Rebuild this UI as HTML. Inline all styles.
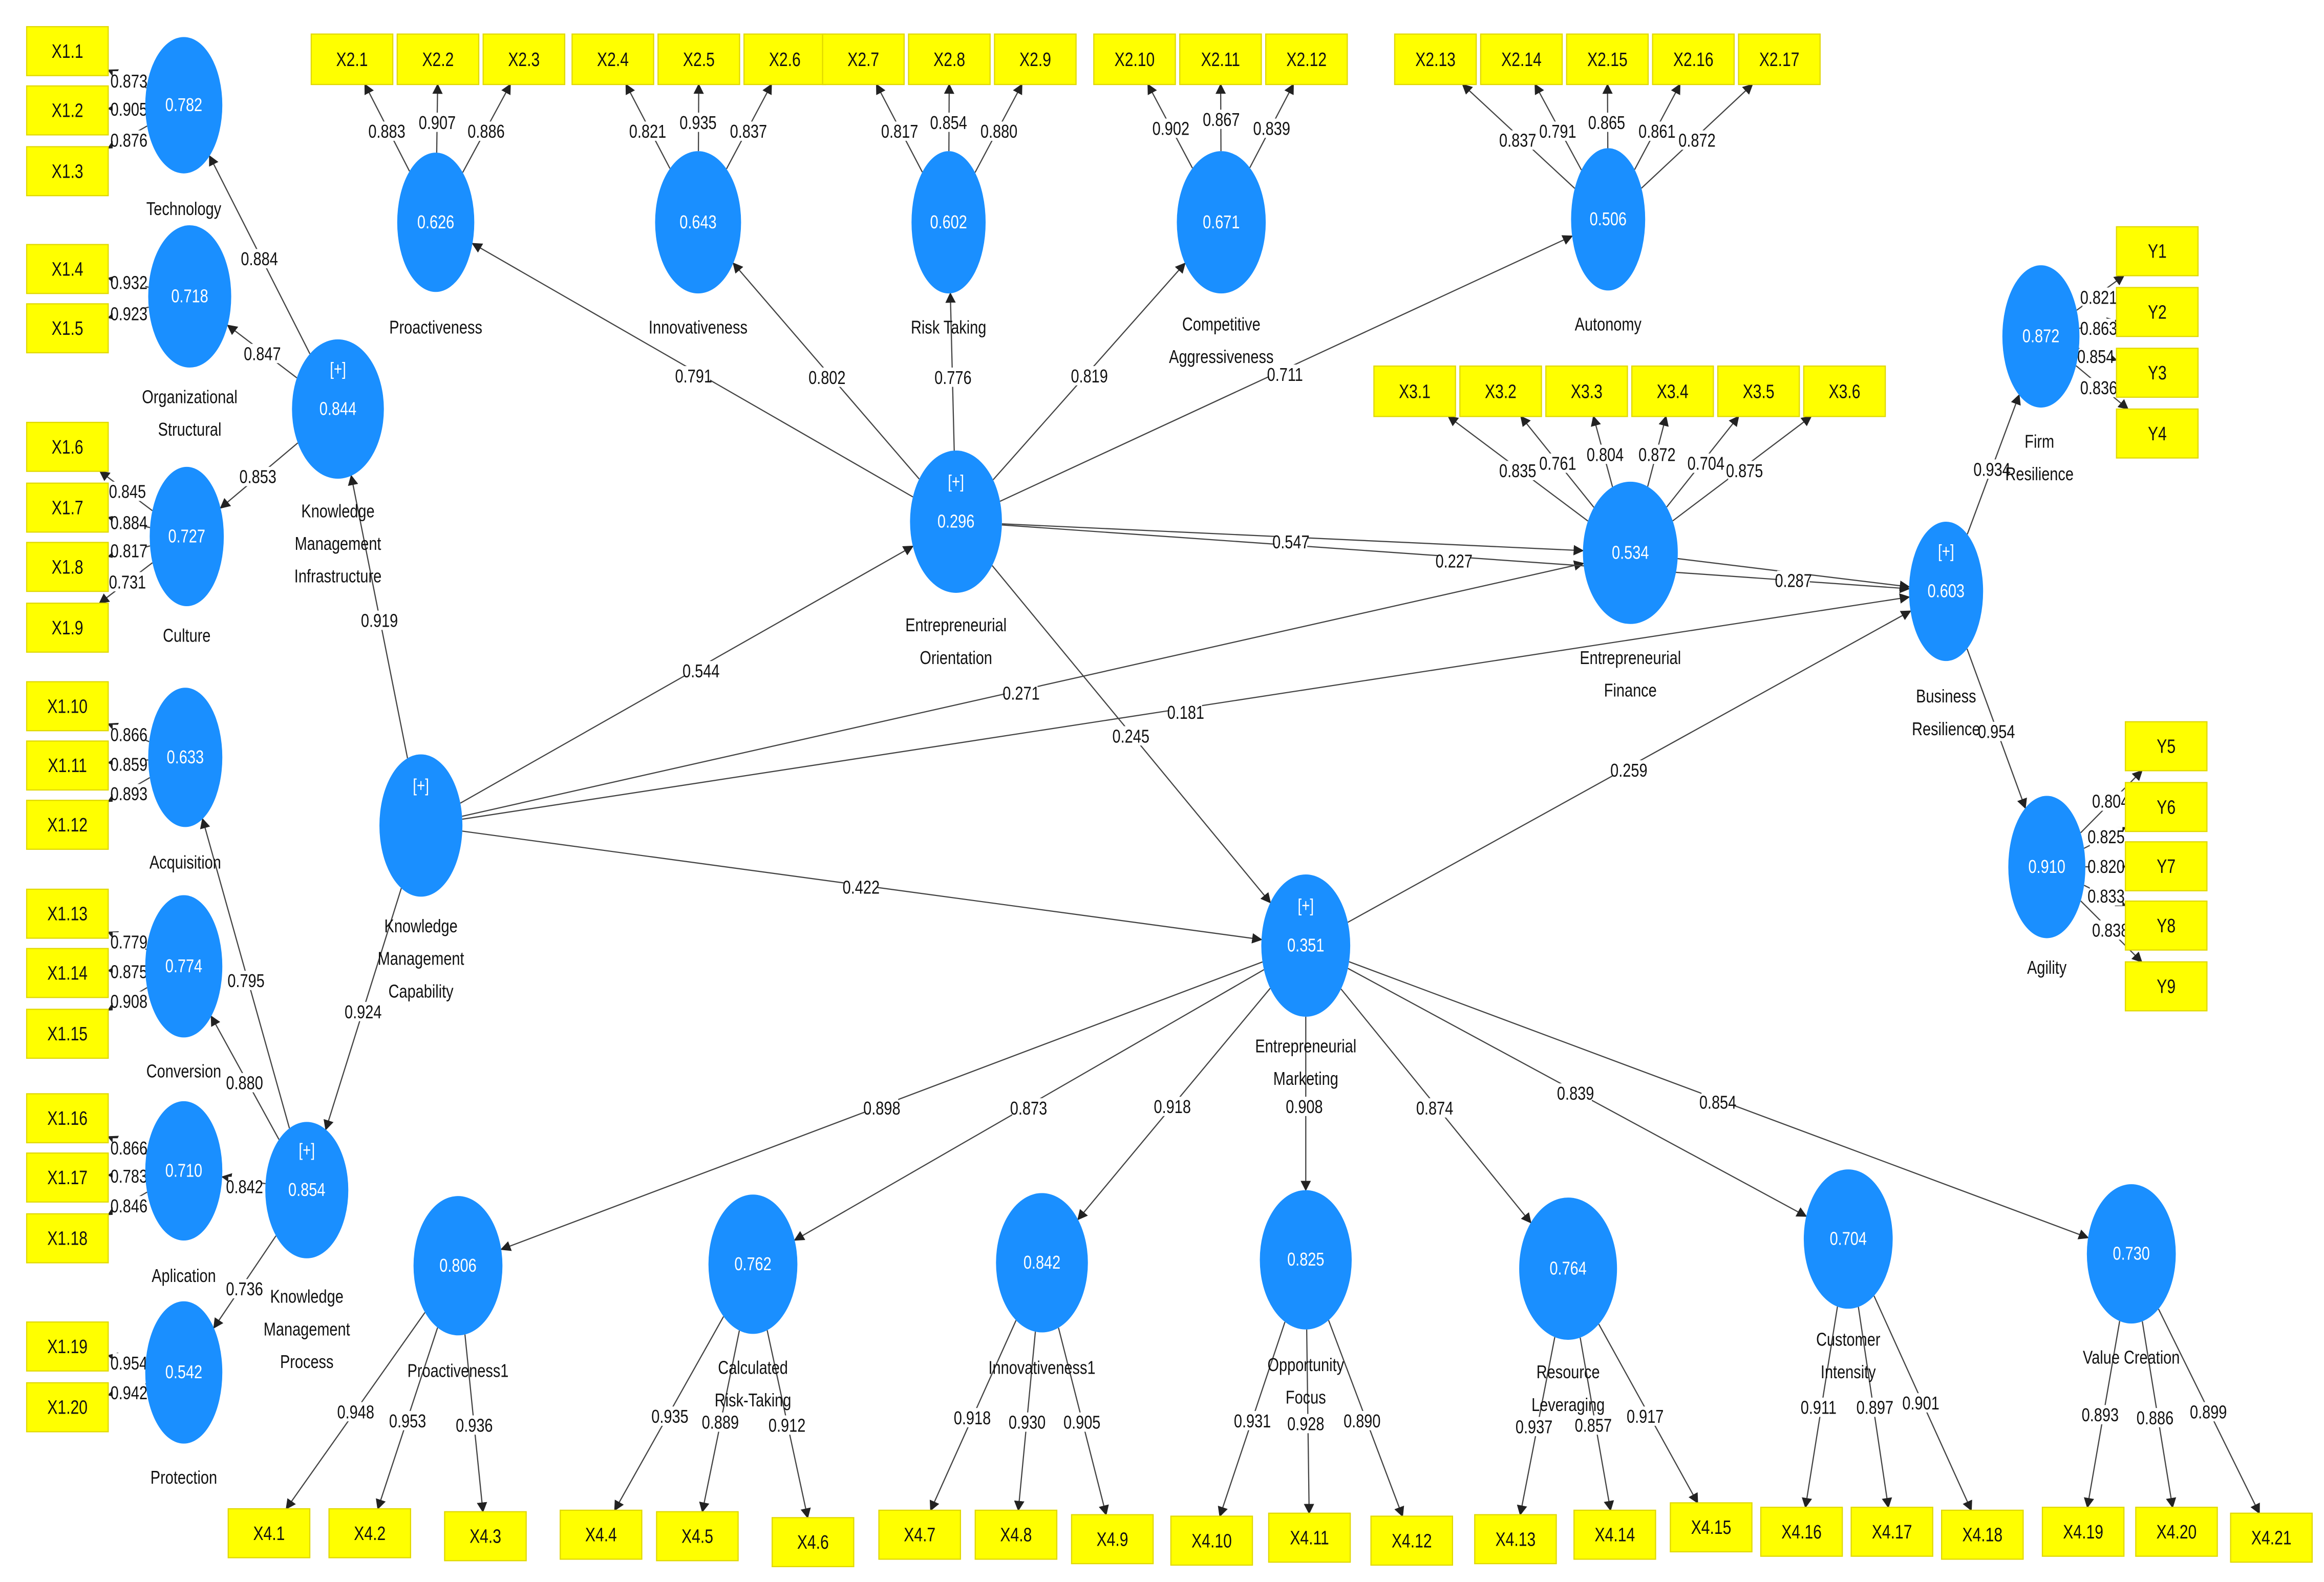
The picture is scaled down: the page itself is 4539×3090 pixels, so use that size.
<!DOCTYPE html>
<html><head><meta charset="utf-8">
<style>
html,body{margin:0;padding:0;background:#fff;}
svg{display:block;}
text{font-family:"Liberation Sans Narrow","Liberation Sans",sans-serif;}
</style></head>
<body>
<svg id="s" xmlns="http://www.w3.org/2000/svg" width="4539" height="3090" viewBox="0 0 1568 1067.4" preserveAspectRatio="none">
<defs><marker id="ah" viewBox="0 0 10 10" refX="9" refY="5" markerWidth="7" markerHeight="7" orient="auto" markerUnits="userSpaceOnUse"><path d="M0,0 L10,5 L0,10 z" fill="#222"/></marker></defs>
<rect width="1568" height="1068" fill="#fff"/>
<g id="lines"></g><g id="labs"></g><g id="nodes"></g>
</svg>
<script>
var NS="http://www.w3.org/2000/svg";
var SX=0.8;
function el(p,t,a,txt){var e=document.createElementNS(NS,t);for(var k in a)e.setAttribute(k,a[k]);if(txt!=null)e.textContent=txt;document.getElementById(p).appendChild(e);return e;}
function T(p,x,y,s,fill,txt){return el(p,'text',{x:0,y:0,transform:'translate('+x+','+y+') scale('+SX+',1)','text-anchor':'middle','font-size':s,fill:fill},txt);}
var N={};
function C(id,x,y,rx,ry,val,plus,labs,lx){N[id]={t:'e',x:x,y:y,rx:rx,ry:ry};
 el('nodes','ellipse',{cx:x,cy:y,rx:rx,ry:ry,fill:'#1a8fff'});
 if(plus){T('nodes',x,y-23,12,'#fff','[+]');}
 T('nodes',x,y+4,12.5,'#fff',val);
 labs.forEach(function(l){T('nodes',lx||x,l[1]+4,12.5,'#111',l[0]);});}
function B(id,x,y,w,h,txt){w=w||55;h=h||33;N[id]={t:'r',x:x+w/2,y:y+h/2,w:w,h:h};
 el('nodes','rect',{x:x,y:y,width:w,height:h,fill:'#ffff00',stroke:'#e0d800','stroke-width':0.8});
 T('nodes',x+w/2,y+h/2+4.5,13,'#111',txt||id);}
function bp(n,dx,dy){var L=Math.hypot(dx,dy);dx/=L;dy/=L;
 if(n.t=='e'){var k=1/Math.sqrt(dx*dx/(n.rx*n.rx)+dy*dy/(n.ry*n.ry));return [n.x+dx*k,n.y+dy*k];}
 var kx=dx?Math.abs(n.w/2/dx):1e9,ky=dy?Math.abs(n.h/2/dy):1e9,k=Math.min(kx,ky);return [n.x+dx*k,n.y+dy*k];}
function E(a,b,lab,lx,ly){var A=N[a],Bn=N[b];var dx=Bn.x-A.x,dy=Bn.y-A.y;
 var p=bp(A,dx,dy),q=bp(Bn,-dx,-dy);
 el('lines','line',{x1:p[0],y1:p[1],x2:q[0],y2:q[1],stroke:'#444','stroke-width':0.8,'marker-end':'url(#ah)'});
 if(lab){el('labs','rect',{x:lx-11,y:ly-7,width:22,height:13,fill:'#fff'});
 T('labs',lx,ly+4,12.5,'#111',lab);}}
var lb=[['X1.1',18],['X1.2',58],['X1.3',99],['X1.4',165],['X1.5',205],['X1.6',285],['X1.7',326],['X1.8',366],['X1.9',407],['X1.10',460],['X1.11',500],['X1.12',540],['X1.13',600],['X1.14',640],['X1.15',681],['X1.16',738],['X1.17',778],['X1.18',819],['X1.19',892],['X1.20',933]];
lb.forEach(function(b){B(b[0],18,b[1]);});
var tb=[['X2.1',210],['X2.2',268],['X2.3',326],['X2.4',386],['X2.5',444],['X2.6',502],['X2.7',555],['X2.8',613],['X2.9',671],['X2.10',738],['X2.11',796],['X2.12',854],['X2.13',941],['X2.14',999],['X2.15',1057],['X2.16',1115],['X2.17',1173]];
tb.forEach(function(b){B(b[0],b[1],23,55,34);});
[['X3.1',927],['X3.2',985],['X3.3',1043],['X3.4',1101],['X3.5',1159],['X3.6',1217]].forEach(function(b){B(b[0],b[1],247,55,34);});
[['Y1',153],['Y2',194],['Y3',235],['Y4',276]].forEach(function(b){B(b[0],1428,b[1]);});
[['Y5',487],['Y6',528],['Y7',568],['Y8',608],['Y9',649]].forEach(function(b){B(b[0],1434,b[1]);});
var bb=[['X4.1',154,1018],['X4.2',222,1018],['X4.3',300,1020],['X4.4',378,1019],['X4.5',443,1020],['X4.6',521,1024],['X4.7',593,1019],['X4.8',658,1019],['X4.9',723,1022],['X4.10',790,1023],['X4.11',856,1021],['X4.12',925,1023],['X4.13',995,1022],['X4.14',1062,1019],['X4.15',1127,1014],['X4.16',1188,1017],['X4.17',1249,1017],['X4.18',1310,1019],['X4.19',1378,1017],['X4.20',1441,1017],['X4.21',1505,1021]];
bb.forEach(function(b){B(b[0],b[1],b[2]);});
C('TEC',124,71,26,46,'0.782',0,[['Technology',141]]);
C('ORG',128,200,28,48,'0.718',0,[['Organizational',268],['Structural',290]]);
C('CUL',126,362,25,47,'0.727',0,[['Culture',429]]);
C('KMI',228,276,31,47,'0.844',1,[['Knowledge',345],['Management',367],['Infrastructure',389]]);
C('ACQ',125,511,25,47,'0.633',0,[['Acquisition',582]]);
C('CON',124,652,26,48,'0.774',0,[['Conversion',723]]);
C('APL',124,790,26,47,'0.710',0,[['Aplication',861]]);
C('PRO',124,926,26,48,'0.542',0,[['Protection',997]]);
C('KMP',207,803,28,46,'0.854',1,[['Knowledge',875],['Management',897],['Process',919]]);
C('KMC',284,557,28,48,'',1,[['Knowledge',625],['Management',647],['Capability',669]]);
C('PA',294,150,26,47,'0.626',0,[['Proactiveness',221]]);
C('IN',471,150,29,48,'0.643',0,[['Innovativeness',221]]);
C('RT',640,150,25,48,'0.602',0,[['Risk Taking',221]]);
C('CA',824,150,30,48,'0.671',0,[['Competitive',219],['Aggressiveness',241]]);
C('AU',1085,148,25,48,'0.506',0,[['Autonomy',219]]);
C('EO',645,352,31,48,'0.296',1,[['Entrepreneurial',422],['Orientation',444]]);
C('EF',1100,373,32,48,'0.534',0,[['Entrepreneurial',444],['Finance',466]]);
C('BR',1313,399,25,47,'0.603',1,[['Business',470],['Resilience',492]]);
C('FR',1377,227,26,48,'0.872',0,[['Firm',298],['Resilience',320]],1376);
C('AG',1381,585,26,48,'0.910',0,[['Agility',653]]);
C('EM',881,638,30,48,'0.351',1,[['Entrepreneurial',706],['Marketing',728]]);
C('P1',309,854,30,47,'0.806',0,[['Proactiveness1',925]]);
C('CR',508,853,30,47,'0.762',0,[['Calculated',923],['Risk-Taking',945]]);
C('I1',703,852,31,47,'0.842',0,[['Innovativeness1',923]]);
C('OF',881,850,31,47,'0.825',0,[['Opportunity',921],['Focus',943]]);
C('RL',1058,856,33,48,'0.764',0,[['Resource',926],['Leveraging',948]]);
C('CI',1247,836,30,47,'0.704',0,[['Customer',904],['Intensity',926]]);
C('VC',1438,846,30,47,'0.730',0,[['Value Creation',916]]);
function IE(c,list){list.forEach(function(l){E(c,l[0],l[1],l[2],l[3]);});}
IE('TEC',[['X1.1','0.873',87,55],['X1.2','0.905',87,74],['X1.3','0.876',87,95]]);
IE('ORG',[['X1.4','0.932',87,191],['X1.5','0.923',87,212]]);
IE('CUL',[['X1.6','0.845',86,332],['X1.7','0.884',87,353],['X1.8','0.817',87,372],['X1.9','0.731',86,393]]);
IE('ACQ',[['X1.10','0.866',87,496],['X1.11','0.859',87,516],['X1.12','0.893',87,536]]);
IE('CON',[['X1.13','0.779',87,636],['X1.14','0.875',87,656],['X1.15','0.908',87,676]]);
IE('APL',[['X1.16','0.866',87,775],['X1.17','0.783',87,794],['X1.18','0.846',87,814]]);
IE('PRO',[['X1.19','0.954',87,920],['X1.20','0.942',87,940]]);
IE('PA',[['X2.1','0.883',261,89],['X2.2','0.907',295,83],['X2.3','0.886',328,89]]);
IE('IN',[['X2.4','0.821',437,89],['X2.5','0.935',471,83],['X2.6','0.837',505,89]]);
IE('RT',[['X2.7','0.817',607,89],['X2.8','0.854',640,83],['X2.9','0.880',674,89]]);
IE('CA',[['X2.10','0.902',790,87],['X2.11','0.867',824,81],['X2.12','0.839',858,87]]);
IE('AU',[['X2.13','0.837',1024,95],['X2.14','0.791',1051,89],['X2.15','0.865',1084,83],['X2.16','0.861',1118,89],['X2.17','0.872',1145,95]]);
IE('EF',[['X3.1','0.835',1024,318],['X3.2','0.761',1051,313],['X3.3','0.804',1083,307],['X3.4','0.872',1118,307],['X3.5','0.704',1151,313],['X3.6','0.875',1177,318]]);
IE('FR',[['Y1','0.821',1416,201],['Y2','0.863',1416,222],['Y3','0.854',1414,241],['Y4','0.836',1416,262]]);
IE('AG',[['Y5','0.804',1424,541],['Y6','0.825',1421,565],['Y7','0.820',1421,585],['Y8','0.833',1421,605],['Y9','0.838',1424,628]]);
IE('P1',[['X4.1','0.948',240,953],['X4.2','0.953',275,959],['X4.3','0.936',320,962]]);
IE('CR',[['X4.4','0.935',452,956],['X4.5','0.889',486,960],['X4.6','0.912',531,962]]);
IE('I1',[['X4.7','0.918',656,957],['X4.8','0.930',693,960],['X4.9','0.905',730,960]]);
IE('OF',[['X4.10','0.931',845,959],['X4.11','0.928',881,961],['X4.12','0.890',919,959]]);
IE('RL',[['X4.13','0.937',1035,963],['X4.14','0.857',1075,962],['X4.15','0.917',1110,956]]);
IE('CI',[['X4.16','0.911',1227,950],['X4.17','0.897',1265,950],['X4.18','0.901',1296,947]]);
IE('VC',[['X4.19','0.893',1417,955],['X4.20','0.886',1454,957],['X4.21','0.899',1490,953]]);
E('KMI','TEC','0.884',175,175);E('KMI','ORG','0.847',177,239);E('KMI','CUL','0.853',174,322);
E('KMC','KMI','0.919',256,419);E('KMC','KMP','0.924',245,683);
E('KMP','ACQ','0.795',166,662);E('KMP','CON','0.880',165,731);E('KMP','APL','0.842',165,801);E('KMP','PRO','0.736',165,870);
E('KMC','EO','0.544',473,453);E('KMC','EF','0.271',689,468);E('KMC','BR','0.181',800,481);E('KMC','EM','0.422',581,599);
E('EO','PA','0.791',468,254);E('EO','IN','0.802',558,255);E('EO','RT','0.776',643,255);E('EO','CA','0.819',735,254);E('EO','AU','0.711',867,253);
E('EO','EF','0.547',871,366);E('EO','BR','0.227',981,379);E('EF','BR','0.287',1210,392);E('EO','EM','0.245',763,497);E('EM','BR','0.259',1099,520);
E('BR','FR','0.934',1344,317);E('BR','AG','0.954',1347,494);
E('EM','P1','0.898',595,748);E('EM','CR','0.873',694,748);E('EM','I1','0.918',791,747);E('EM','OF','0.908',880,747);E('EM','RL','0.874',968,748);E('EM','CI','0.839',1063,738);E('EM','VC','0.854',1159,744);
</script>
</body></html>
